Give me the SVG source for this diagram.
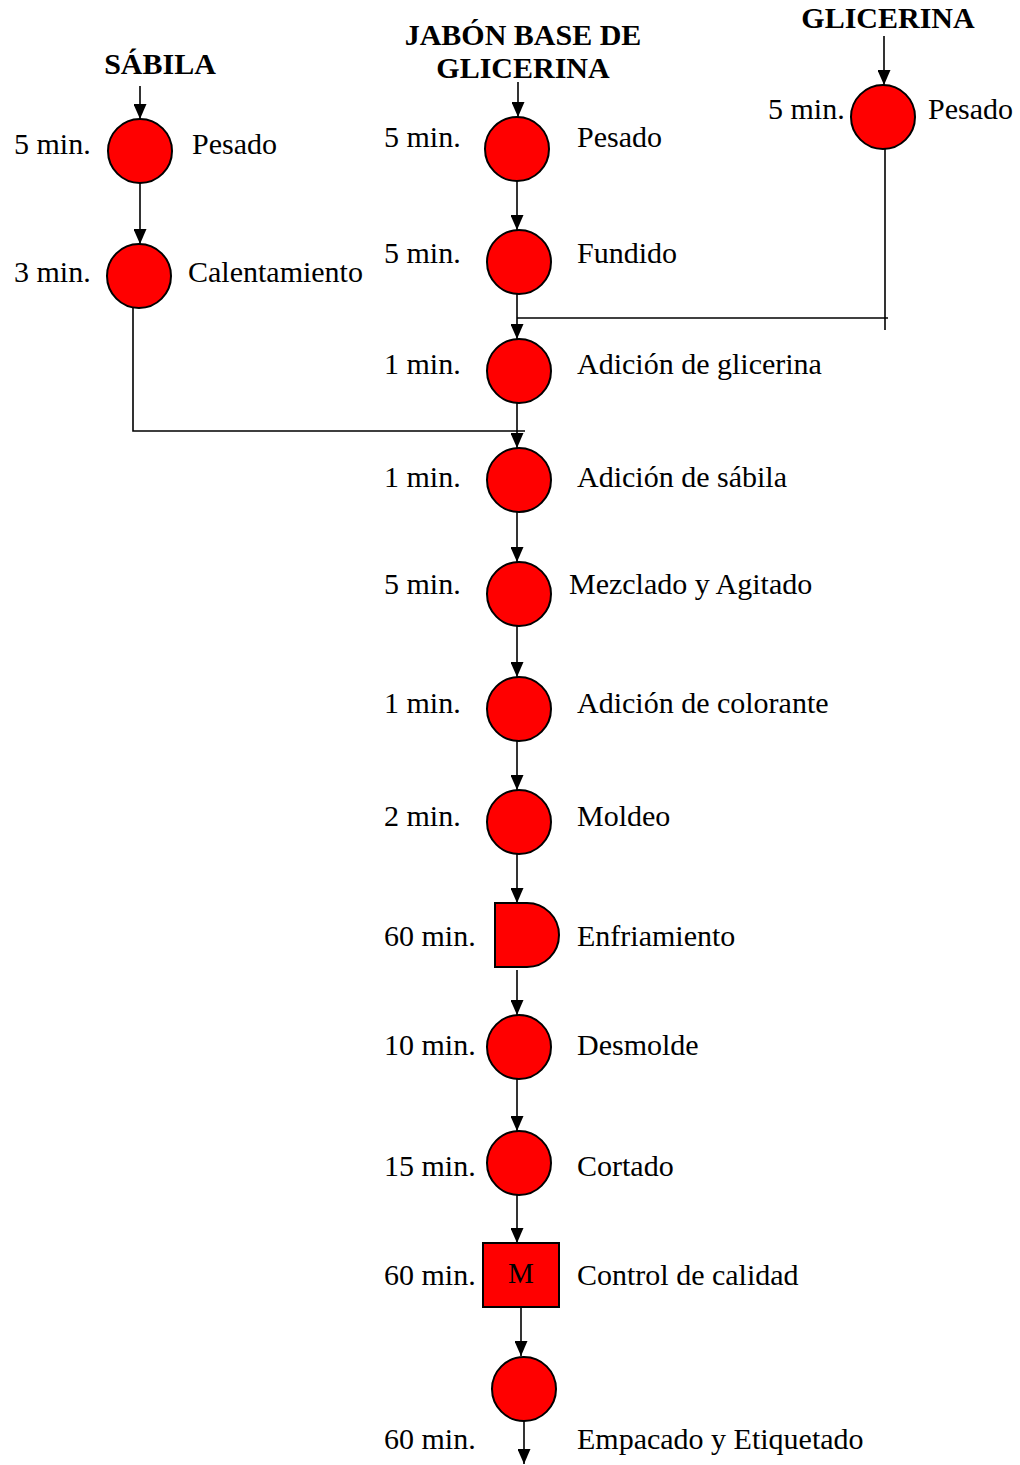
<svg xmlns="http://www.w3.org/2000/svg" width="1020" height="1465" viewBox="0 0 1020 1465">
<style>
text{font-family:"Liberation Serif","Times New Roman",serif;font-size:30px;fill:#000}
.h{font-weight:bold;font-size:30px;text-anchor:middle}
.op{fill:#ff0000;stroke:#000;stroke-width:2}
.ln{fill:none;stroke:#000;stroke-width:1.6}
.ar{marker-end:url(#ah)}
</style>
<defs>
<marker id="ah" markerUnits="userSpaceOnUse" markerWidth="15" markerHeight="13" viewBox="0 0 15 13" refX="15" refY="6.5" orient="auto">
<path d="M0,0 L15,6.5 L0,13 Z" fill="#000"/>
</marker>
</defs>
<g id="connectors">
<line class="ln ar" x1="140" y1="86" x2="140" y2="119"/>
<line class="ln ar" x1="140" y1="183" x2="140" y2="244"/>
<polyline class="ln" points="133,308 133,431 525,431"/>
<line class="ln ar" x1="518" y1="82" x2="518" y2="117"/>
<line class="ln ar" x1="517" y1="181" x2="517" y2="230"/>
<line class="ln ar" x1="517" y1="294" x2="517" y2="339"/>
<line class="ln" x1="517" y1="318" x2="888" y2="318"/>
<line class="ln" x1="885" y1="149" x2="885" y2="330"/>
<line class="ln ar" x1="884" y1="36" x2="884" y2="85"/>
<line class="ln ar" x1="517" y1="403" x2="517" y2="448"/>
<line class="ln ar" x1="517" y1="512" x2="517" y2="562"/>
<line class="ln ar" x1="517" y1="626" x2="517" y2="677"/>
<line class="ln ar" x1="517" y1="741" x2="517" y2="790"/>
<line class="ln ar" x1="517" y1="854" x2="517" y2="903"/>
<line class="ln ar" x1="517" y1="970" x2="517" y2="1015"/>
<line class="ln ar" x1="517" y1="1079" x2="517" y2="1131"/>
<line class="ln ar" x1="517" y1="1195" x2="517" y2="1243"/>
<line class="ln ar" x1="521" y1="1308" x2="521" y2="1356"/>
<line class="ln ar" x1="524" y1="1421" x2="524" y2="1464"/>
</g>
<g id="hdr-sabila"><text class="h" x="160" y="74">SÁBILA</text></g>
<g id="hdr-jabon"><text class="h" x="523" y="45">JABÓN BASE DE</text><text class="h" x="523" y="78">GLICERINA</text></g>
<g id="hdr-glicerina"><text class="h" x="888" y="28">GLICERINA</text></g>
<g id="n-s-pesado"><circle class="op" cx="140" cy="151" r="32"/><text x="14" y="154">5 min.</text><text x="192" y="154">Pesado</text></g>
<g id="n-s-calent"><circle class="op" cx="139" cy="276" r="32"/><text x="14" y="282">3 min.</text><text x="188" y="282">Calentamiento</text></g>
<g id="n-g-pesado"><circle class="op" cx="883" cy="117" r="32"/><text x="768" y="119">5 min.</text><text x="928" y="119">Pesado</text></g>
<g id="n-j-pesado"><circle class="op" cx="517" cy="149" r="32"/><text x="384" y="147">5 min.</text><text x="577" y="147">Pesado</text></g>
<g id="n-fundido"><circle class="op" cx="519" cy="262" r="32"/><text x="384" y="263">5 min.</text><text x="577" y="263">Fundido</text></g>
<g id="n-ad-glic"><circle class="op" cx="519" cy="371" r="32"/><text x="384" y="374">1 min.</text><text x="577" y="374">Adición de glicerina</text></g>
<g id="n-ad-sab"><circle class="op" cx="519" cy="480" r="32"/><text x="384" y="487">1 min.</text><text x="577" y="487">Adición de sábila</text></g>
<g id="n-mezclado"><circle class="op" cx="519" cy="594" r="32"/><text x="384" y="594">5 min.</text><text x="569" y="594">Mezclado y Agitado</text></g>
<g id="n-colorante"><circle class="op" cx="519" cy="709" r="32"/><text x="384" y="713">1 min.</text><text x="577" y="713">Adición de colorante</text></g>
<g id="n-moldeo"><circle class="op" cx="519" cy="822" r="32"/><text x="384" y="826">2 min.</text><text x="577" y="826">Moldeo</text></g>
<g id="n-enfriamiento"><path class="op" d="M495,903 L527,903 A32,32 0 0 1 527,967 L495,967 Z"/><text x="384" y="946">60 min.</text><text x="577" y="946">Enfriamiento</text></g>
<g id="n-desmolde"><circle class="op" cx="519" cy="1047" r="32"/><text x="384" y="1055">10 min.</text><text x="577" y="1055">Desmolde</text></g>
<g id="n-cortado"><circle class="op" cx="519" cy="1163" r="32"/><text x="384" y="1176">15 min.</text><text x="577" y="1176">Cortado</text></g>
<g id="n-control"><rect class="op" x="483" y="1243" width="76" height="64"/><text x="521" y="1283" text-anchor="middle" style="font-size:29px">M</text><text x="384" y="1285">60 min.</text><text x="577" y="1285">Control de calidad</text></g>
<g id="n-empacado"><circle class="op" cx="524" cy="1389" r="32"/><text x="384" y="1449">60 min.</text><text x="577" y="1449">Empacado y Etiquetado</text></g>
</svg>
